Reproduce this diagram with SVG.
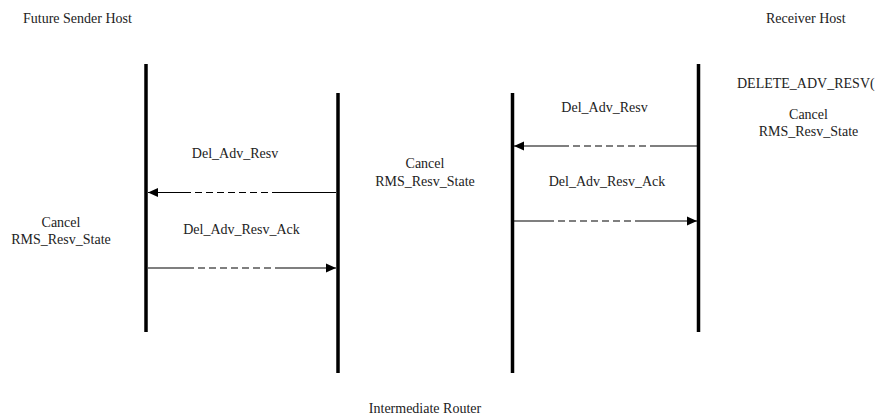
<svg xmlns="http://www.w3.org/2000/svg" width="878" height="417" viewBox="0 0 878 417">
<style>
text{font-family:"Liberation Serif","Times New Roman",serif;font-size:14px;fill:#222}
.c{text-anchor:middle}
.life{stroke:#000;stroke-width:3.5;fill:none}
.msg{stroke:#000;stroke-width:1.2;fill:none}
.dash{stroke-dasharray:7 4}
</style>
<defs>
<marker id="ah" viewBox="0 0 10 10" refX="10" refY="5" markerWidth="10" markerHeight="10" markerUnits="userSpaceOnUse" orient="auto">
<path d="M0,0.5 L10,5 L0,9.5 Z" fill="#000"/>
</marker>
</defs>
<rect width="878" height="417" fill="#fff"/>
<g id="sender">
<line class="life" x1="146" y1="64" x2="146" y2="332"/>
<text x="23" y="23">Future Sender Host</text>
<text class="c" x="61" y="227">Cancel</text>
<text class="c" x="61" y="244">RMS_Resv_State</text>
</g>
<g id="router">
<line class="life" x1="338" y1="93" x2="338" y2="373"/>
<line class="life" x1="512.5" y1="93" x2="512.5" y2="373"/>
<text class="c" x="425" y="168">Cancel</text>
<text class="c" x="425" y="186">RMS_Resv_State</text>
<text class="c" x="425" y="413">Intermediate Router</text>
</g>
<g id="receiver">
<line class="life" x1="698.5" y1="64" x2="698.5" y2="332"/>
<text x="766" y="23">Receiver Host</text>
<text x="737" y="88">DELETE_ADV_RESV(</text>
<text class="c" x="808.5" y="119">Cancel</text>
<text class="c" x="808.5" y="136">RMS_Resv_State</text>
</g>
<g id="connectors">
<path class="msg" d="M336,192.5 H279"/>
<path class="msg dash" d="M279,192.5 H187"/>
<path class="msg" d="M187,192.5 H148" marker-end="url(#ah)"/>
<path class="msg" d="M148,268 H187"/>
<path class="msg dash" d="M187,268 H280"/>
<path class="msg" d="M280,268 H336" marker-end="url(#ah)"/>
<path class="msg" d="M697,146 H657"/>
<path class="msg dash" d="M657,146 H565"/>
<path class="msg" d="M565,146 H514" marker-end="url(#ah)"/>
<path class="msg" d="M514,221 H547"/>
<path class="msg dash" d="M547,221 H640"/>
<path class="msg" d="M640,221 H697" marker-end="url(#ah)"/>
</g>
<g id="labels">
<text class="c" x="235" y="158">Del_Adv_Resv</text>
<text class="c" x="241.5" y="234">Del_Adv_Resv_Ack</text>
<text class="c" x="604.5" y="112">Del_Adv_Resv</text>
<text class="c" x="607" y="186">Del_Adv_Resv_Ack</text>
</g>
</svg>
